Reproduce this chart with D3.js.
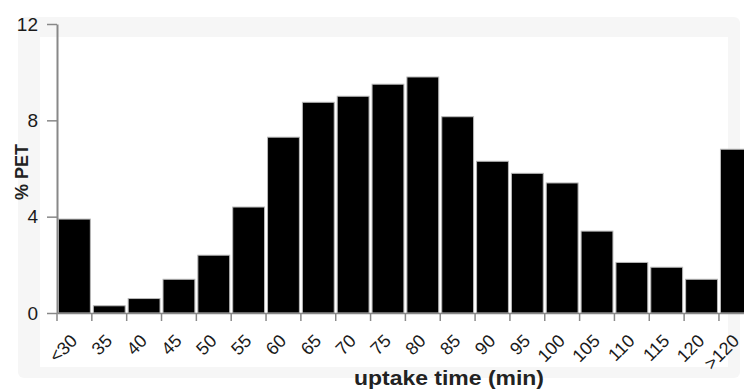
<!DOCTYPE html>
<html>
<head>
<meta charset="utf-8">
<script src="https://cdn.jsdelivr.net/npm/d3@7.9.0/dist/d3.min.js"></script>
<style>
  body { margin: 0; background: #fff; }
  svg { display: block; font-family: Arial, "Liberation Sans", sans-serif; }
</style>
</head>
<body>
<svg width="744" height="392"></svg>
<script>
// uptake time bins and share of PET scans (%)
const bins = ['<30', '35', '40', '45', '50', '55', '60', '65', '70', '75', '80',
  '85', '90', '95', '100', '105', '110', '115', '120', '>120'];
const pet = [3.9, 0.3, 0.6, 1.4, 2.4, 4.4, 7.3, 8.75, 9.0, 9.5, 9.8,
  8.15, 6.3, 5.8, 5.4, 3.4, 2.1, 1.9, 1.4, 6.8];
const yTicks = [0, 4, 8, 12];

const svg = d3.select('svg');

// faint panel frame behind the plot
svg.append('rect').attr('x', 18).attr('y', 17).attr('width', 722).attr('height', 361)
  .attr('rx', 6).attr('fill', '#f6f6f6');
svg.append('rect').attr('x', 40).attr('y', 37).attr('width', 688).attr('height', 330)
  .attr('fill', '#fff');

const x0 = 57, bw = 34.84;
let x = d3.scaleBand().domain(bins).range([x0, x0 + bw * bins.length]).padding(0);
let y = d3.scaleLinear().domain([0, 12]).range([313, 24]);

// bars
svg.append('g').selectAll('rect')
  .data(pet)
  .join('rect')
  .attr('x', (d, i) => x(bins[i]) + 1.5)
  .attr('width', x.bandwidth() - 3)
  .attr('y', d => y(d))
  .attr('height', d => y(0) - y(d))
  .attr('fill', '#000')
  .attr('stroke', '#b8b8b8')
  .attr('stroke-width', 1);

// x axis: ticks sit on the bin edges, labels under the bars
let xAxis = svg.append('g')
  .attr('transform', `translate(0,${y(0)})`)
  .call(d3.axisBottom(x).tickSize(8).tickSizeOuter(0).tickPadding(0));
xAxis.select('.domain').attr('stroke', '#888').attr('stroke-width', 1.5);
xAxis.selectAll('.tick line')
  .attr('x1', -bw / 2).attr('x2', -bw / 2)
  .attr('stroke', '#888').attr('stroke-width', 1.5);
xAxis.selectAll('.tick text')
  .attr('fill', '#1a1a1a')
  .style('font-size', '18px')
  .attr('text-anchor', 'end')
  .attr('dy', 0)
  .attr('transform', 'translate(4,29) rotate(-45)')
  .attr('y', 0);

// y axis
let yAxis = svg.append('g')
  .attr('transform', `translate(${x0},0)`)
  .call(d3.axisLeft(y).tickValues(yTicks).tickSize(10).tickSizeOuter(0).tickPadding(9));
yAxis.select('.domain').attr('stroke', '#888').attr('stroke-width', 2);
yAxis.selectAll('.tick line').attr('stroke', '#888').attr('stroke-width', 1.5);
yAxis.selectAll('.tick text').attr('fill', '#1a1a1a').style('font-size', '19px');

// axis titles
svg.append('text')
  .attr('transform', 'translate(28,172) rotate(-90)')
  .attr('text-anchor', 'middle')
  .style('font-size', '18px').style('font-weight', 'bold')
  .attr('fill', '#222')
  .text('% PET');

svg.append('text')
  .attr('x', 449).attr('y', 385)
  .attr('text-anchor', 'middle')
  .attr('textLength', 190).attr('lengthAdjust', 'spacingAndGlyphs')
  .style('font-size', '21px').style('font-weight', 'bold')
  .attr('fill', '#222')
  .text('uptake time (min)');
</script>
</body>
</html>
